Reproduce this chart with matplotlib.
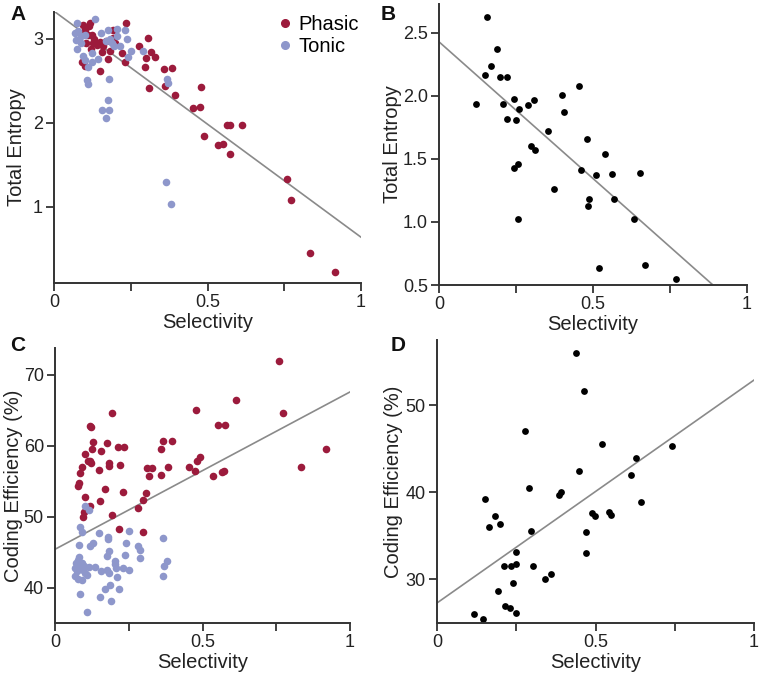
import matplotlib
matplotlib.use("Agg")
import matplotlib.pyplot as plt
from matplotlib.lines import Line2D

plt.rcParams['font.family'] = ['Liberation Sans', 'DejaVu Sans']

# ---------------- Data ----------------
# Panel A: Selectivity vs Total Entropy (Phasic / Tonic)
A_phasic_x = [0.093, 0.117, 0.115, 0.234, 0.191, 0.125, 0.128, 0.150, 0.155, 0.177,
              0.150, 0.182, 0.193, 0.220, 0.231, 0.277, 0.305, 0.300, 0.316, 0.329,
              0.297, 0.358, 0.383, 0.310, 0.360, 0.394, 0.478, 0.452, 0.477, 0.489,
              0.533, 0.549, 0.572, 0.565, 0.574, 0.613, 0.758, 0.771, 0.834, 0.916,
              0.100, 0.110, 0.130, 0.105, 0.140, 0.120, 0.160, 0.170, 0.200, 0.090,
              0.100]
A_phasic_y = [3.17, 3.19, 3.15, 3.19, 3.11, 3.05, 2.95, 2.96, 2.84, 2.76,
              2.62, 2.85, 3.01, 2.83, 2.73, 2.91, 3.01, 2.77, 2.84, 2.79,
              2.67, 2.64, 2.65, 2.42, 2.44, 2.33, 2.43, 2.18, 2.19, 1.84,
              1.74, 1.75, 1.63, 1.98, 1.98, 1.98, 1.33, 1.08, 0.456, 0.226,
              3.10, 3.05, 3.00, 2.95, 2.93, 2.88, 2.92, 2.98, 2.95, 2.72,
              2.68]
A_tonic_x = [0.074, 0.134, 0.068, 0.078, 0.072, 0.074, 0.087, 0.089, 0.100, 0.093,
             0.101, 0.112, 0.123, 0.144, 0.152, 0.123, 0.177, 0.182, 0.206, 0.204,
             0.215, 0.231, 0.239, 0.250, 0.242, 0.171, 0.195, 0.190, 0.289, 0.367,
             0.370, 0.106, 0.112, 0.180, 0.177, 0.155, 0.180, 0.168, 0.364, 0.381]
A_tonic_y = [3.19, 3.24, 3.07, 3.09, 2.99, 2.88, 2.95, 3.03, 3.05, 2.80,
             2.75, 2.67, 2.73, 2.76, 3.07, 2.83, 3.11, 3.00, 3.12, 3.03,
             2.91, 3.11, 3.00, 2.85, 2.79, 2.97, 2.91, 2.95, 2.85, 2.52,
             2.48, 2.51, 2.46, 2.52, 2.27, 2.15, 2.15, 2.06, 1.30, 1.04]
A_fit = (3.33, -2.69)  # intercept, slope

# Panel B: Selectivity vs Total Entropy
B_x = [0.155, 0.187, 0.169, 0.150, 0.199, 0.222, 0.120, 0.207, 0.245, 0.259,
       0.222, 0.250, 0.288, 0.309, 0.400, 0.456, 0.406, 0.353, 0.299, 0.313,
       0.480, 0.242, 0.257, 0.373, 0.539, 0.462, 0.509, 0.562, 0.651, 0.487,
       0.485, 0.569, 0.256, 0.634, 0.518, 0.669, 0.769]
B_y = [2.63, 2.37, 2.24, 2.17, 2.15, 2.15, 1.94, 1.94, 1.98, 1.90,
       1.82, 1.81, 1.93, 1.97, 2.01, 2.08, 1.87, 1.72, 1.60, 1.57,
       1.66, 1.43, 1.46, 1.26, 1.54, 1.41, 1.37, 1.38, 1.39, 1.18,
       1.13, 1.18, 1.02, 1.02, 0.636, 0.66, 0.55]
B_fit = (2.43, -2.17)

# Panel C: Selectivity vs Coding Efficiency (Phasic / Tonic)
C_phasic_x = [0.193, 0.120, 0.123, 0.128, 0.126, 0.156, 0.176, 0.212, 0.235, 0.103,
              0.112, 0.123, 0.117, 0.090, 0.086, 0.080, 0.077, 0.100, 0.148, 0.182,
              0.184, 0.221, 0.168, 0.151, 0.230, 0.366, 0.397, 0.361, 0.312, 0.330,
              0.317, 0.359, 0.384, 0.307, 0.298, 0.280, 0.454, 0.476, 0.481, 0.493,
              0.478, 0.553, 0.575, 0.534, 0.566, 0.574, 0.615, 0.758, 0.773, 0.919,
              0.834, 0.120, 0.097, 0.095, 0.193, 0.217, 0.299]
C_phasic_y = [64.6, 62.8, 62.6, 60.5, 59.5, 59.3, 60.4, 59.8, 59.9, 58.8,
              57.9, 57.6, 57.8, 57.0, 56.2, 54.8, 54.3, 52.8, 56.6, 57.6,
              57.2, 57.3, 53.9, 52.2, 53.5, 60.7, 60.7, 59.5, 56.8, 56.9,
              55.8, 55.9, 57.0, 53.3, 52.4, 51.2, 57.0, 56.5, 57.9, 58.4,
              65.0, 62.9, 62.9, 55.8, 56.3, 56.4, 66.5, 72.0, 64.6, 59.6,
              57.0, 51.5, 50.6, 49.9, 50.3, 48.2, 47.9]
C_tonic_x = [0.103, 0.114, 0.086, 0.092, 0.148, 0.180, 0.178, 0.252, 0.367, 0.080,
             0.120, 0.129, 0.241, 0.280, 0.289, 0.182, 0.176, 0.238, 0.289, 0.082,
             0.077, 0.137, 0.204, 0.204, 0.157, 0.176, 0.184, 0.208, 0.230, 0.250,
             0.210, 0.381, 0.371, 0.365, 0.069, 0.075, 0.069, 0.077, 0.092, 0.108,
             0.095, 0.083, 0.114, 0.100, 0.072, 0.092, 0.097, 0.187, 0.171, 0.217,
             0.086, 0.154, 0.189, 0.108]
C_tonic_y = [51.5, 50.9, 48.6, 47.9, 47.7, 47.2, 46.8, 48.0, 47.0, 46.0,
             45.9, 46.3, 46.3, 45.9, 45.3, 45.2, 44.5, 44.6, 44.2, 44.3,
             43.9, 42.9, 43.8, 43.3, 42.4, 42.5, 42.1, 42.7, 42.7, 42.5,
             41.5, 43.8, 43.1, 41.6, 42.7, 42.3, 41.6, 41.2, 41.1, 41.8,
             42.5, 43.0, 42.9, 42.1, 43.4, 43.4, 43.1, 40.3, 39.8, 39.8,
             39.1, 38.6, 38.1, 36.5]
C_fit = (45.4, 22.2)

# Panel D: Selectivity vs Coding Efficiency
D_x = [0.438, 0.464, 0.279, 0.519, 0.447, 0.290, 0.386, 0.392, 0.150, 0.741,
       0.628, 0.612, 0.645, 0.183, 0.164, 0.200, 0.490, 0.499, 0.542, 0.549,
       0.297, 0.470, 0.469, 0.248, 0.212, 0.235, 0.250, 0.302, 0.341, 0.360,
       0.241, 0.193, 0.214, 0.231, 0.248, 0.117, 0.144]
D_y = [56.0, 51.7, 47.0, 45.6, 42.5, 40.5, 39.7, 40.0, 39.2, 45.3,
       44.0, 42.0, 38.9, 37.3, 36.0, 36.4, 37.6, 37.3, 37.7, 37.4,
       35.6, 35.4, 33.0, 33.2, 31.5, 31.5, 31.8, 31.6, 30.0, 30.6,
       29.6, 28.7, 26.9, 26.7, 26.1, 26.0, 25.5]
D_fit = (27.3, 25.6)

# ---------------- Style ----------------
PHASIC = '#9C1B3C'
TONIC = '#8E97CB'
FIT = '#8A8A8A'
SPINE = '#333333'

W, H = 759, 673
fig = plt.figure(figsize=(W / 100, H / 100), dpi=100)


def px_axes(l, t, r, b):
    return fig.add_axes([l / W, 1 - b / H, (r - l) / W, (b - t) / H])


def style(ax, ylim, yticks, yticklabels, ylabel, label_x):
    ax.set_xlim(0, 1)
    ax.set_ylim(*ylim)
    ax.spines['top'].set_visible(False)
    ax.spines['right'].set_visible(False)
    for s in ('left', 'bottom'):
        ax.spines[s].set_color(SPINE)
        ax.spines[s].set_linewidth(1.4)
    ax.set_xticks([0, 0.25, 0.5, 0.75, 1])
    ax.set_xticklabels(['0', '', '0.5', '', '1'])
    ax.set_yticks(yticks)
    ax.set_yticklabels(yticklabels)
    ax.tick_params(direction='out', length=6, width=1.3, color=SPINE,
                   labelsize=13, labelcolor='#222222', pad=2)
    ax.set_xlabel('Selectivity', fontsize=14.5, color='#222222', labelpad=1)
    ax.set_ylabel(ylabel, fontsize=14.5, color='#222222')
    ax.yaxis.set_label_coords(label_x, 0.5)


def fit_line(ax, fit):
    a, b = fit
    ax.plot([0, 1], [a, a + b], color=FIT, lw=1.2, zorder=1)


# Panel A
axA = px_axes(54, 12, 361, 283)
axA.scatter(A_phasic_x, A_phasic_y, s=30, color=PHASIC, linewidths=0, zorder=2)
axA.scatter(A_tonic_x, A_tonic_y, s=30, color=TONIC, linewidths=0, zorder=3)
fit_line(axA, A_fit)
style(axA, (0.095, 3.32), [1, 2, 3], ['1', '2', '3'], 'Total Entropy', -0.092)
handles = [Line2D([], [], ls='', marker='o', ms=5.5, color=PHASIC, label='Phasic'),
           Line2D([], [], ls='', marker='o', ms=5.5, color=TONIC, label='Tonic')]
axA.legend(handles=handles, loc='upper right', bbox_to_anchor=(1.02, 1.02),
           frameon=False, fontsize=14.5, handletextpad=0.15, labelspacing=0.15,
           handlelength=1.0, borderaxespad=0)

# Panel B
axB = px_axes(439, 4, 747, 285)
axB.scatter(B_x, B_y, s=24, color='black', linewidths=0, zorder=2)
fit_line(axB, B_fit)
style(axB, (0.5, 2.73), [0.5, 1.0, 1.5, 2.0, 2.5],
      ['0.5', '1.0', '1.5', '2.0', '2.5'], 'Total Entropy', -0.119)

# Panel C
axC = px_axes(55, 348, 350, 623)
axC.scatter(C_phasic_x, C_phasic_y, s=30, color=PHASIC, linewidths=0, zorder=2)
axC.scatter(C_tonic_x, C_tonic_y, s=30, color=TONIC, linewidths=0, zorder=3)
fit_line(axC, C_fit)
style(axC, (35, 73.8), [40, 50, 60, 70], ['40', '50', '60', '70'],
      'Coding Efficiency (%)', -0.108)

# Panel D
axD = px_axes(437, 340, 754, 623)
axD.scatter(D_x, D_y, s=24, color='black', linewidths=0, zorder=2)
fit_line(axD, D_fit)
style(axD, (25, 57.5), [30, 40, 50], ['30', '40', '50'],
      'Coding Efficiency (%)', -0.106)

# Panel letters
for letter, x, y in [('A', 18, 14), ('B', 388, 14), ('C', 18, 346), ('D', 398, 346)]:
    fig.text(x / W, 1 - y / H, letter, fontsize=15, fontweight='bold',
             ha='center', va='center', color='#111111')

fig.savefig('out.png', dpi=100)
